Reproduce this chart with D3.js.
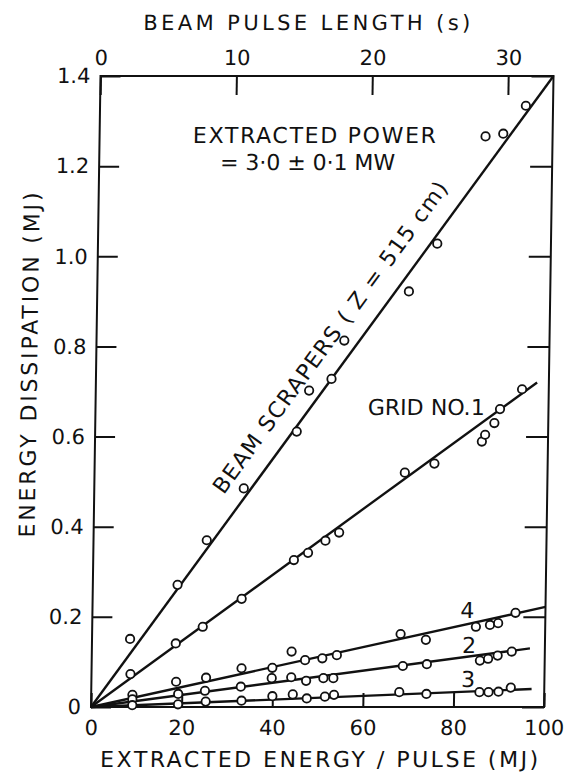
<!DOCTYPE html>
<html>
<head>
<meta charset="utf-8">
<script src="https://cdn.jsdelivr.net/npm/d3@7"></script>
<style>
body { margin:0; background:#fff; }
text { font-family:"DejaVu Sans", sans-serif; fill:#111; }
.axis path { display:none; }
.axis line { stroke:#111; stroke-width:2; }
.axis text { font-size:21px; font-family:"DejaVu Sans", sans-serif; fill:#111; }
.frame { fill:none; stroke:#111; stroke-width:2; }
.fit { fill:none; stroke:#111; stroke-width:2.4; }
circle { fill:#fff; stroke:#111; stroke-width:1.8; }
</style>
</head>
<body>
<svg width="568" height="774"></svg>
<script>
// axis ticks
const xTicks = [0, 20, 40, 60, 80, 100]
const yTicks = [0, 0.2, 0.4, 0.6, 0.8, 1.0, 1.2, 1.4]
const yTickLabels = ["0", "0.2", "0.4", "0.6", "0.8", "1.0", "1.2", "1.4"]
const topTicks = [0, 10, 20, 30]
const pulseMax = 100 / 3.0   // seconds for 100 MJ at 3.0 MW

// measured points [extracted energy MJ, dissipation MJ]
const scraperPts = [[8.4,0.151],[18.7,0.271],[25.0,0.370],[33.0,0.485],[44.5,0.611],[47.1,0.702],
  [52.0,0.728],[54.7,0.813],[68.8,0.922],[74.9,1.028],[85.2,1.266],[89.1,1.272],[94.0,1.334]]
const grid1Pts = [[8.6,0.073],[18.5,0.141],[24.4,0.178],[32.9,0.240],[44.3,0.326],[47.4,0.342],
  [51.2,0.369],[54.2,0.387],[68.5,0.520],[75.0,0.540],[85.4,0.589],[86.1,0.604],[88.1,0.630],
  [89.3,0.661],[94.1,0.705]]
const grid4Pts = [[9.1,0.027],[18.7,0.056],[25.3,0.065],[33.1,0.086],[39.9,0.087],[44.1,0.123],
  [47.1,0.104],[50.9,0.108],[54.1,0.115],[68.1,0.162],[73.7,0.149],[84.7,0.178],[87.8,0.182],
  [89.6,0.186],[93.4,0.209]]
const grid2Pts = [[9.1,0.017],[19.2,0.029],[25.1,0.036],[33.0,0.045],[39.8,0.064],[44.1,0.066],
  [47.4,0.058],[51.2,0.064],[53.4,0.064],[68.7,0.091],[74.0,0.095],[85.7,0.103],[87.5,0.107],
  [89.6,0.114],[92.7,0.123]]
const grid3Pts = [[9.1,0.004],[19.2,0.006],[25.3,0.012],[33.2,0.014],[40.0,0.024],[44.5,0.028],
  [47.6,0.019],[51.6,0.023],[53.6,0.027],[68.0,0.033],[74.0,0.029],[85.7,0.033],[87.7,0.033],
  [89.9,0.034],[92.6,0.043]]

// fitted straight lines through origin
const scraperFit = [[0,0],[100,1.40]]
const grid1Fit = [[0,0],[97.4,0.720]]
const grid4Fit = [[0,0],[100,0.222]]
const grid2Fit = [[0,0],[96.7,0.130]]
const grid3Fit = [[0,0],[97.2,0.040]]

var W = 453, H = 631
var padLeft = 91, padTop = 76
var shear = Math.atan(-9.5 / H) * 180 / Math.PI   // scanned page is slightly sheared

var svg = d3.select("svg")
var g = svg.append("g")
  .attr("transform", "translate(" + padLeft + "," + (padTop + H) + ") skewX(" + shear + ") translate(0," + (-H) + ")")

var x = d3.scaleLinear().domain([0, 100]).range([0, W])
var y = d3.scaleLinear().domain([0, 1.4]).range([H, 0])
var xTop = d3.scaleLinear().domain([0, pulseMax]).range([0, W])

g.append("rect").attr("class", "frame").attr("width", W).attr("height", H)

g.append("g").attr("class", "axis").attr("transform", "translate(0," + H + ")")
  .call(d3.axisBottom(x).tickValues(xTicks).tickSizeInner(-14).tickSizeOuter(0).tickPadding(13))
g.append("g").attr("class", "axis")
  .call(d3.axisLeft(y).tickValues(yTicks).tickFormat(function(d, i) { return yTickLabels[i] })
    .tickSizeInner(-20).tickSizeOuter(0).tickPadding(10))
g.append("g").attr("class", "axis").attr("transform", "translate(" + W + ",0)")
  .call(d3.axisRight(y).tickValues(yTicks).tickFormat("").tickSizeInner(-22).tickSizeOuter(0))
g.append("g").attr("class", "axis")
  .call(d3.axisTop(xTop).tickValues(topTicks).tickSizeInner(-19).tickSizeOuter(0).tickPadding(11))

// titles
g.append("text").attr("x", 42).attr("y", -46).attr("font-size", 21)
  .attr("textLength", 327).attr("lengthAdjust", "spacing").text("BEAM  PULSE  LENGTH (s)")
g.append("text").attr("x", 10).attr("y", 691).attr("font-size", 22)
  .attr("textLength", 438).attr("lengthAdjust", "spacing").text("EXTRACTED  ENERGY / PULSE  (MJ)")
g.append("text").attr("transform", "translate(-59,289) rotate(-90)").attr("text-anchor", "middle")
  .attr("font-size", 22).attr("textLength", 345).attr("lengthAdjust", "spacing")
  .text("ENERGY  DISSIPATION  (MJ)")

// fitted lines
var line = d3.line().x(function(d) { return x(d[0]) }).y(function(d) { return y(d[1]) })
var fits = [scraperFit, grid1Fit, grid4Fit, grid2Fit, grid3Fit]
g.selectAll(".fit").data(fits).enter().append("path").attr("class", "fit").attr("d", line)

// points
var allPts = [scraperPts, grid1Pts, grid4Pts, grid2Pts, grid3Pts]
allPts.forEach(function(pts) {
  g.append("g").selectAll("circle").data(pts).enter().append("circle")
    .attr("cx", function(d) { return x(d[0]) })
    .attr("cy", function(d) { return y(d[1]) })
    .attr("r", 4.2)
})

// annotations
function note(txt, mx, my, len) {
  var t = g.append("text").attr("x", x(mx)).attr("y", y(my)).attr("font-size", 22).text(txt)
  if (len) t.attr("textLength", len).attr("lengthAdjust", "spacing")
  return t
}
note("EXTRACTED POWER", 20.6, 1.251, 243)
note("= 3·0 ± 0·1 MW", 26.7, 1.191, 175)
note("GRID  NO.1", 60.1, 0.648, 117)
note("4", 81.2, 0.197)
note("2", 81.7, 0.120)
note("3", 81.6, 0.044)

// label along the beam scraper line
var ang = Math.atan2(y(1.4) - y(0), x(100) - x(0))
var fx = x(56.2), fy = y(56.2 * 0.014)
var off = 26
var cx = fx + off * Math.sin(ang), cy = fy - off * Math.cos(ang)
g.append("text").attr("transform", "translate(" + cx + "," + cy + ") rotate(" + (ang * 180 / Math.PI) + ")")
  .attr("text-anchor", "middle").attr("dy", "0.35em").attr("font-size", 22)
  .attr("textLength", 378).attr("lengthAdjust", "spacing")
  .text("BEAM  SCRAPERS ( Z = 515 cm)")
</script>
</body>
</html>
